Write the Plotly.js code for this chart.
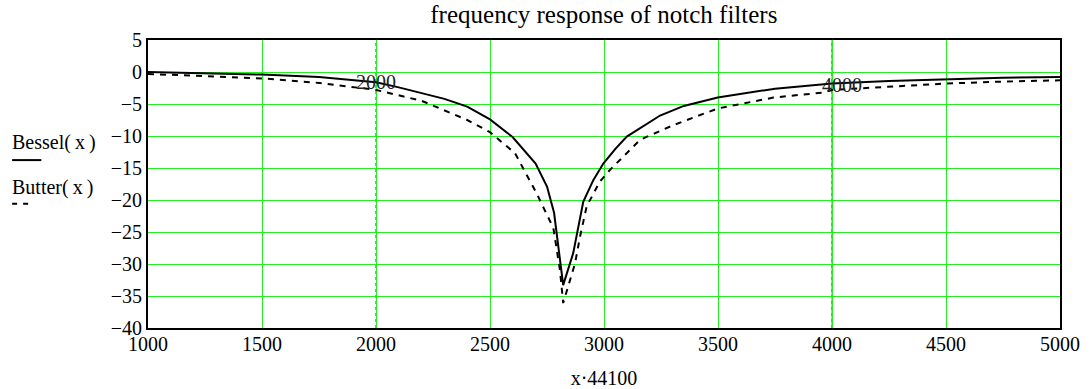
<!DOCTYPE html>
<html>
<head>
<meta charset="utf-8">
<script src="https://cdn.plot.ly/plotly-3.0.1.min.js"></script>
<style>html,body{margin:0;padding:0;background:#fff;}#chart{width:1090px;height:389px;}</style>
</head>
<body>
<div id="chart"></div>
<script>
// Frequency (Hz) = x·44100
var besselX = [1000, 1250, 1500, 1750, 2000, 2100, 2200, 2300, 2400, 2500, 2600, 2700, 2750, 2781, 2821, 2865, 2909, 2953, 2997, 3050, 3100, 3158, 3246, 3350, 3499, 3750, 4000, 4250, 4500, 4750, 5000];
var besselY = [0, -0.2, -0.4, -0.8, -1.6, -2.4, -3.3, -4.2, -5.4, -7.4, -10.2, -14.3, -17.9, -22.0, -33.3, -28.3, -20.3, -16.9, -14.3, -12.0, -10.1, -8.8, -6.8, -5.3, -4.0, -2.6, -1.8, -1.4, -1.15, -0.9, -0.8];

var butterX = [1000, 1250, 1500, 1750, 2000, 2200, 2400, 2500, 2610, 2705, 2749, 2778, 2807, 2821, 2873, 2895, 2924, 2982, 3026, 3158, 3304, 3499, 3743, 3962, 4000, 4250, 4500, 4750, 5000];
var butterY = [-0.3, -0.6, -1.0, -1.7, -2.8, -4.5, -7.5, -9.4, -12.7, -19.0, -22.1, -24.4, -31.0, -36.1, -29.9, -25.7, -21.0, -17.1, -15.3, -10.6, -8.3, -5.7, -4.0, -3.2, -2.8, -2.3, -1.8, -1.5, -1.3];

var xTicks = [1000, 1500, 2000, 2500, 3000, 3500, 4000, 4500, 5000];
var yTicks = [5, 0, -5, -10, -15, -20, -25, -30, -35, -40];
var markerX = [2000, 4000];
var markerLabelY = [-1.6, -2.0];

var serif = '"Liberation Serif", "Times New Roman", Times, serif';

var traces = [
  {x: besselX, y: besselY, mode: 'lines', line: {color: '#000', width: 2}, name: 'Bessel(x)', hoverinfo: 'x+y'},
  {x: butterX, y: butterY, mode: 'lines', line: {color: '#000', width: 2, dash: '6px,6px'}, name: 'Butter(x)', hoverinfo: 'x+y'}
];

var shapes = [
  {type: 'line', xref: 'x', yref: 'paper', x0: markerX[0], x1: markerX[0], y0: 0, y1: 1, line: {color: '#e00000', width: 1, dash: 'dot'}, layer: 'below'},
  {type: 'line', xref: 'x', yref: 'paper', x0: markerX[1], x1: markerX[1], y0: 0, y1: 1, line: {color: '#66ff66', width: 2}, layer: 'below'},
  {type: 'line', xref: 'x', yref: 'paper', x0: markerX[1], x1: markerX[1], y0: 0, y1: 1, line: {color: '#c05000', width: 1, dash: 'dot'}, layer: 'below'},
  // legend samples
  {type: 'line', xref: 'paper', yref: 'paper', x0: -0.149, x1: -0.117, y0: 0.583, y1: 0.583, line: {color: '#000', width: 2}},
  {type: 'line', xref: 'paper', yref: 'paper', x0: -0.149, x1: -0.126, y0: 0.431, y1: 0.431, line: {color: '#000', width: 2, dash: '5px,6px'}}
];

var annotations = [
  {text: 'Bessel(\u2009x\u2009)', xref: 'paper', yref: 'paper', x: -0.151, y: 0.645, xanchor: 'left', yanchor: 'middle', showarrow: false, font: {family: serif, size: 20, color: '#000'}},
  {text: 'Butter(\u2009x\u2009)', xref: 'paper', yref: 'paper', x: -0.151, y: 0.489, xanchor: 'left', yanchor: 'middle', showarrow: false, font: {family: serif, size: 20, color: '#000'}},
  {text: String(markerX[0]), xref: 'x', yref: 'y', x: markerX[0], y: markerLabelY[0], xanchor: 'center', yanchor: 'middle', showarrow: false, font: {family: serif, size: 20, color: '#222'}},
  {text: String(markerX[1]), x: markerX[1], xref: 'x', yref: 'y', y: markerLabelY[1], xanchor: 'center', xshift: 10, yanchor: 'middle', showarrow: false, font: {family: serif, size: 20, color: '#222'}}
];

var layout = {
  width: 1090, height: 389,
  margin: {l: 148, r: 30, t: 40, b: 61},
  paper_bgcolor: '#fff', plot_bgcolor: '#fff',
  showlegend: false,
  font: {family: serif, size: 20, color: '#000'},
  title: {text: 'frequency response of notch filters', font: {family: serif, size: 25, color: '#000'}, x: 0.554, xanchor: 'center', y: 0.964, yanchor: 'middle', yref: 'container'},
  xaxis: {
    range: [1000, 5000], tickmode: 'array', tickvals: xTicks, ticktext: xTicks.map(String),
    showgrid: true, gridcolor: '#22ee22', gridwidth: 1, zeroline: false,
    showline: true, linecolor: '#000', linewidth: 2, mirror: true, ticks: '',
    ticklabelstandoff: -3,
    tickfont: {family: serif, size: 20, color: '#000'},
    title: {text: 'x·44100', font: {family: serif, size: 20, color: '#000'}, standoff: 22}
  },
  yaxis: {
    range: [-40, 5], tickmode: 'array', tickvals: yTicks,
    showgrid: true, gridcolor: '#22ee22', gridwidth: 1, zeroline: false,
    showline: true, linecolor: '#000', linewidth: 2, mirror: true, ticks: '',
    tickfont: {family: serif, size: 20, color: '#000'}
  },
  shapes: shapes,
  annotations: annotations
};

Plotly.newPlot('chart', traces, layout, {displayModeBar: false, staticPlot: true});
</script>
</body>
</html>
